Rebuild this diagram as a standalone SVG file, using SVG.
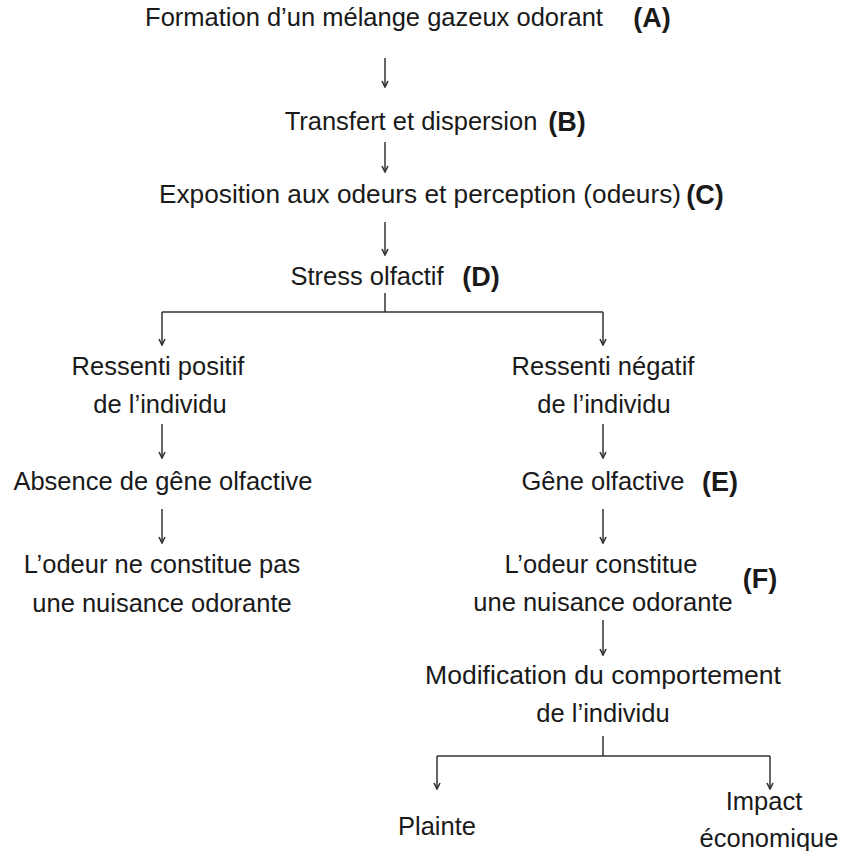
<svg xmlns="http://www.w3.org/2000/svg" width="845" height="851" viewBox="0 0 845 851">
<defs>
<style>
text{font-family:"Liberation Sans",Arial,sans-serif;font-size:25.5px;fill:#1a1a1a;text-anchor:middle}
.b{font-weight:bold;font-size:27px}
.c line,.c path{stroke:#333;stroke-width:1.5;fill:none}
</style>
<marker id="ah" viewBox="0 0 8 8" refX="7" refY="4" markerWidth="8" markerHeight="8" markerUnits="userSpaceOnUse" orient="auto">
<path d="M1,1 L7,4 L1,7" fill="none" stroke="#333" stroke-width="1.6"/>
</marker>
</defs>
<rect width="845" height="851" fill="#fff"/>
<g class="c" id="connectors">
<line x1="385" y1="58" x2="385" y2="87" marker-end="url(#ah)"/>
<line x1="385" y1="142" x2="385" y2="172" marker-end="url(#ah)"/>
<line x1="385" y1="222" x2="385" y2="255" marker-end="url(#ah)"/>
<line x1="385" y1="293" x2="385" y2="312"/>
<path d="M162,312 H603"/>
<line x1="162" y1="312" x2="162" y2="345" marker-end="url(#ah)"/>
<line x1="603" y1="312" x2="603" y2="345" marker-end="url(#ah)"/>
<line x1="162" y1="424" x2="162" y2="458" marker-end="url(#ah)"/>
<line x1="162" y1="509" x2="162" y2="543" marker-end="url(#ah)"/>
<line x1="603" y1="424" x2="603" y2="458" marker-end="url(#ah)"/>
<line x1="603" y1="509" x2="603" y2="543" marker-end="url(#ah)"/>
<line x1="603" y1="620" x2="603" y2="655" marker-end="url(#ah)"/>
<line x1="603" y1="736" x2="603" y2="756"/>
<path d="M437,756 H770"/>
<line x1="437" y1="756" x2="437" y2="789" marker-end="url(#ah)"/>
<line x1="770" y1="756" x2="770" y2="789" marker-end="url(#ah)"/>
</g>
<g id="nodeA"><text x="374" y="26">Formation d’un mélange gazeux odorant</text><text class="b" x="652" y="27">(A)</text></g>
<g id="nodeB"><text x="411" y="130">Transfert et dispersion</text><text class="b" x="567" y="131">(B)</text></g>
<g id="nodeC"><text x="420" y="203" textLength="522" lengthAdjust="spacingAndGlyphs">Exposition aux odeurs et perception (odeurs)</text><text class="b" x="705" y="204">(C)</text></g>
<g id="nodeD"><text x="367" y="285">Stress olfactif</text><text class="b" x="481" y="286">(D)</text></g>
<g id="nodePos"><text x="158" y="375">Ressenti positif</text><text x="160" y="413">de l’individu</text></g>
<g id="nodeAbs"><text x="163" y="490">Absence de gêne olfactive</text></g>
<g id="nodeNon"><text x="162" y="573">L’odeur ne constitue pas</text><text x="162" y="612">une nuisance odorante</text></g>
<g id="nodeNeg"><text x="603" y="375">Ressenti négatif</text><text x="604" y="413">de l’individu</text></g>
<g id="nodeE"><text x="603" y="490">Gêne olfactive</text><text class="b" x="720" y="491">(E)</text></g>
<g id="nodeF"><text x="601" y="573">L’odeur constitue</text><text x="603" y="611">une nuisance odorante</text><text class="b" x="760" y="588">(F)</text></g>
<g id="nodeMod"><text x="603" y="684" textLength="356" lengthAdjust="spacingAndGlyphs">Modification du comportement</text><text x="603" y="722">de l’individu</text></g>
<g id="nodePlainte"><text x="437" y="835">Plainte</text></g>
<g id="nodeImpact"><text x="764" y="810">Impact</text><text x="769" y="847">économique</text></g>
</svg>
